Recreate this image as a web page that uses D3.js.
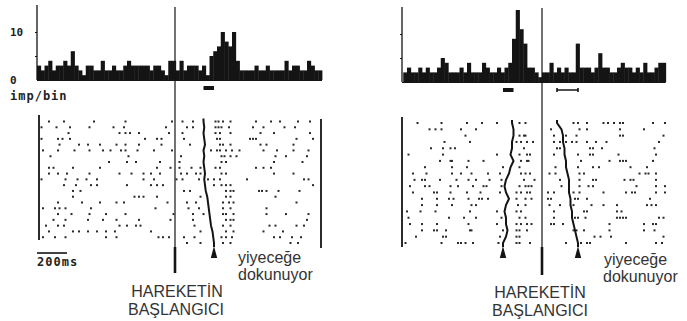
<!DOCTYPE html>
<html>
<head>
<meta charset="utf-8">
<script src="https://cdn.jsdelivr.net/npm/d3@7"></script>
<style>
  body { margin: 0; background: #fff; }
  svg text { font-family: "Liberation Sans", Arial, sans-serif; fill: #333; }
  svg text.mono { font-family: "DejaVu Sans Mono", monospace; font-weight: bold; fill: #222; }
</style>
</head>
<body>
<svg id="chart" width="687" height="321"></svg>
<script>
// bin width of both histograms, in ms
const binMs = 25;
const countTicks = [0, 10];

// left cell: histogram counts per 25 ms bin, from -920 ms
const leftCounts = [3,2,3,4,2,3,3,4,3,6, 3,2,1,3,3,2,2,4,2,2, 3,2,2,3,4,3,3,3,3,3,
  2,3,3,2,1,4,4,2,4,2, 3,3,3,2,3,1,5,6,7,10, 8,7,10,4,2,2,2,2,3,2,
  2,3,2,2,2,2,4,2,3,3, 2,2,4,3,2,2];

// right cell: histogram counts per 25 ms bin, from -925 ms
const rightCounts = [2,3,2,2,3,2,3,2,2,3, 5,4,2,2,2,3,2,4,2,2, 2,4,3,2,2,3,2,3,4,9,
  15,11,8,3,3,2,1,2,2,4, 2,3,2,3,2,2,8,3,3,3, 2,3,6,3,3,2,2,3,4,3,
  3,2,3,2,4,2,2,3,4,4];

// spike times (ms from movement onset), one array per trial
const leftSpikes = [
  [-840,-740,-540,-330,-20,50,120,270,290,320,370,540,640,700,820,900],
  [-890,-790,-700,-570,-410,-340,-60,80,120,270,290,310,360,520,590,730,800],
  [-710,-370,-330,-300,-240,-40,50,270,300,370,570,660,900],
  [-890,-780,-750,-700,-200,-120,-90,60,280,300,500,520,540,810,920],
  [-770,-640,-580,-500,-390,-330,-240,-90,100,300,320,370,570,610,790],
  [-880,-780,-670,-570,-480,-430,-360,-330,-250,-140,-20,240,280,300,340,380,430,590,680,790,890],
  [-830,-310,40,310,330,370,410,670,740,880],
  [-440,-320,-260,-100,30,310,340,660,850],
  [-840,-810,-680,-500,-120,-30,30,110,170,270,300,540,590,640],
  [-840,-780,-720,-570,-370,-290,-210,-160,-100,40,80,140,170,310,340,660,790],
  [-890,-730,-650,-590,-520,-210,-140,10,50,160,220,260,300,480,860,890],
  [-740,-660,-560,-520,-320,-160,-120,-80,260,310,340,370,920],
  [-680,-630,60,100,340,370,390,560,580,610,690,830],
  [-680,-270,-240,-210,-120,170,340,370,670],
  [-780,-620,-500,-390,-340,-50,80,140,320,360,390,810],
  [-880,-800,-770,-730,-560,-130,90,160,320,370,610],
  [-780,-690,-570,-460,-330,-10,120,190,320,340,390,610,740,890],
  [-810,-730,-580,-480,-390,-240,-30,120,340,370,390,880],
  [-860,-780,-740,-370,-320,-260,-230,130,320,370,630,670,810,860],
  [-840,-680,-640,-580,-520,-460,-400,-160,170,340,390,590,720],
  [-880,-800,-730,-460,-390,-110,-80,-40,60,130,310,340,380,660,700,780,840],
  [80,170,320,370,770,820]
];
// left cell: food-contact time per trial (ms)
const leftTouch = [190,195,190,195,200,190,195,190,195,200,195,200,205,215,220,225,230,235,240,250,255,260];

const rightSpikes = [
  [-830,-670,-500,-400,-300,-150,-110,210,240,300,410,440,480,520,540,740,820],
  [-750,-710,-670,-540,-440,60,250,300,520,680],
  [-510,-150,-120,-110,80,160,230,520,540,810],
  [-650,-480,-170,-140,-100,-60,80,120,160,200,230,300,360,430,780],
  [-740,-660,-610,-580,-120,100,120,320,340,400,750],
  [-890,-660,-300,-150,-100,-80,80,240,320,340,510,760],
  [-680,-610,-600,-490,-390,-140,-100,-90,260,450,520,540,560,740],
  [-780,-600,-500,-260,-150,90,240,340,380,590,700],
  [-860,-770,-600,-540,-470,-360,-280,-140,-110,-80,50,90,250,280,650,690,710,760],
  [-850,-800,-780,-680,-570,-490,-440,-350,-270,-120,-50,120,250,340,360,550,590,610,760],
  [-880,-780,-750,-610,-560,-460,-390,-370,-270,-150,-110,-90,-70,130,250,310,340,630,760,820],
  [-860,-720,-700,-610,-500,-410,-280,-170,-140,-100,-80,40,80,210,250,410,560,600,620,760,820],
  [-800,-700,-620,-590,-490,-420,-400,-360,-170,-110,-70,40,60,220,240,300,720],
  [-800,-700,-600,-470,-440,-160,-110,50,120,210,330,410,500,700,730,760],
  [-900,-810,-710,-480,-300,-170,-140,80,280,300,500,530],
  [-890,-620,-520,-440,-270,-150,-110,80,220,240,290,500,520,540,560,780,810],
  [-880,-800,-700,-490,-300,-170,-140,-100,-70,60,80,140,450,680,740,760],
  [-800,-720,-700,-640,-480,-470,-260,-170,-150,-100,210,230,280,450,680,750],
  [-840,-660,-640,-280,-170,-150,350,390,460,810],
  [-910,-670,-560,-540,-510,-460,-290,-170,-150,-80,160,260,300,320,560,760,800]
];
// right cell: earlier marked event and food-contact time per trial (ms)
const rightCue = [-200,-190,-190,-200,-200,-210,-190,-210,-220,-240,-250,-240,-220,-240,-250,-240,-240,-230,-240,-260];
const rightTouch = [100,130,140,140,150,150,160,160,170,180,180,180,190,190,200,200,210,220,230,240];

const svg = d3.select("#chart");
const ink = "#141414";
const pxPerMs = 0.15;

const panels = [
  {counts: leftCounts, spikes: leftSpikes, events: [{times: leftTouch, bar: "fill"}],
   t0: -920, onsetX: 175, base: 80, axisX: 37, axisTop: 5, rowTop: 121.5, rowBottom: 243,
   leftEdge: [39, 115, 240], rightEdge: [321, 119, 248], onsetTop: 7, onsetBottom: 273},
  {counts: rightCounts, spikes: rightSpikes,
   events: [{times: rightCue, bar: "fill"}, {times: rightTouch, bar: "range"}],
   t0: -925, onsetX: 542, base: 82, axisX: 402, axisTop: 7, rowTop: 123, rowBottom: 243,
   leftEdge: [402, 117, 247], rightEdge: null, onsetTop: 8, onsetBottom: 275}
];

panels.forEach(p => {
  const t1 = p.t0 + p.counts.length * binMs;
  const x = d3.scaleLinear().domain([0, 1000]).range([p.onsetX, p.onsetX + 1000 * pxPerMs]);
  const y = d3.scaleLinear().domain([0, 10]).range([p.base, p.base - 48]);
  const row = d3.scalePoint().domain(d3.range(p.spikes.length)).range([p.rowTop, p.rowBottom]);
  const g = svg.append("g");

  // histogram
  g.append("g").selectAll("rect").data(p.counts).join("rect")
    .attr("x", (d, i) => x(p.t0 + i * binMs))
    .attr("width", x(binMs) - x(0) + 0.4)
    .attr("y", d => y(d))
    .attr("height", d => y(0) - y(d))
    .attr("fill", ink);

  g.append("g")
    .attr("transform", `translate(${p.axisX},0)`)
    .call(d3.axisLeft(y).tickValues([5, 10]).tickSize(2).tickFormat(""))
    .call(a => a.select(".domain").remove())
    .call(a => a.selectAll("line").attr("stroke", ink));
  g.append("line")
    .attr("x1", p.axisX).attr("x2", p.axisX)
    .attr("y1", p.axisTop).attr("y2", p.base)
    .attr("stroke", ink).attr("stroke-width", 1.3);
  g.append("line")
    .attr("x1", p.axisX).attr("x2", x(t1))
    .attr("y1", p.base + 0.5).attr("y2", p.base + 0.5)
    .attr("stroke", ink).attr("stroke-width", 1);

  // raster borders
  [p.leftEdge, p.rightEdge].filter(e => e).forEach(e => {
    g.append("line").attr("x1", e[0]).attr("x2", e[0]).attr("y1", e[1]).attr("y2", e[2])
      .attr("stroke", ink).attr("stroke-width", 1.8);
  });

  // movement onset line
  g.append("line").attr("x1", x(0)).attr("x2", x(0))
    .attr("y1", p.onsetTop).attr("y2", p.onsetBottom)
    .attr("stroke", ink).attr("stroke-width", 1.2);
  g.append("line").attr("x1", x(0)).attr("x2", x(0))
    .attr("y1", p.rowBottom + 4).attr("y2", p.onsetBottom)
    .attr("stroke", ink).attr("stroke-width", 2.6);

  // raster dots
  const trial = g.append("g").selectAll("g").data(p.spikes).join("g")
    .attr("transform", (d, i) => `translate(0,${row(i)})`);
  trial.selectAll("rect").data(d => d).join("rect")
    .attr("x", d => x(d) - 1).attr("y", -1)
    .attr("width", 2).attr("height", 2)
    .attr("fill", "#2a2a2a");

  // event curves, end triangles and range marks under the histogram
  p.events.forEach(ev => {
    const pts = ev.times.map((t, i) => [x(t), row(i)]);
    const last = ev.times[ev.times.length - 1];
    pts.unshift([x(ev.times[0]), p.rowTop - 3]);
    pts.push([x(last), p.rowBottom + 4]);
    g.append("path").attr("d", d3.line()(pts))
      .attr("fill", "none").attr("stroke", ink).attr("stroke-width", 2);
    const tx = x(last);
    g.append("path")
      .attr("d", `M${tx},${p.rowBottom + 3}L${tx - 3.2},${p.rowBottom + 15}L${tx + 3.2},${p.rowBottom + 15}Z`)
      .attr("fill", ink);

    const lo = x(d3.min(ev.times)), hi = x(d3.max(ev.times));
    const by = p.base + 6;
    if (ev.bar === "fill") {
      g.append("rect").attr("x", lo).attr("y", by).attr("width", hi - lo).attr("height", 4)
        .attr("fill", ink);
    } else {
      g.append("path")
        .attr("d", `M${lo},${by}V${by + 4}M${lo},${by + 2}H${hi}M${hi},${by}V${by + 4}`)
        .attr("stroke", ink).attr("stroke-width", 1.6).attr("fill", "none");
    }
  });

  p.x = x;
  p.y = y;
});

// count labels on the left histogram
const L = panels[0];
svg.append("g").selectAll("text").data(countTicks).join("text")
  .attr("class", "mono")
  .attr("x", 10).attr("y", d => L.y(d) + 4)
  .attr("font-size", 11)
  .text(d => d);
svg.append("text").attr("class", "mono")
  .attr("x", 10).attr("y", 100)
  .attr("font-size", 12).attr("letter-spacing", 1)
  .text("imp/bin");

// 200 ms scale bar
svg.append("line")
  .attr("x1", 37).attr("x2", 37 + L.x(200) - L.x(0))
  .attr("y1", 253).attr("y2", 253)
  .attr("stroke", ink).attr("stroke-width", 1.6);
svg.append("text").attr("class", "mono")
  .attr("x", 37).attr("y", 266)
  .attr("font-size", 12).attr("letter-spacing", 1)
  .text("200ms");

// annotations
const notes = [
  {x: 238, y: 263, text: "yiyeceğe", anchor: "start"},
  {x: 238, y: 280, text: "dokunuyor", anchor: "start"},
  {x: 177, y: 297, text: "HAREKETİN", anchor: "middle"},
  {x: 176, y: 315, text: "BAŞLANGICI", anchor: "middle"},
  {x: 604, y: 265, text: "yiyeceğe", anchor: "start"},
  {x: 603, y: 282, text: "dokunuyor", anchor: "start"},
  {x: 540, y: 298, text: "HAREKETİN", anchor: "middle"},
  {x: 540, y: 316, text: "BAŞLANGICI", anchor: "middle"}
];
svg.append("g").selectAll("text").data(notes).join("text")
  .attr("x", d => d.x).attr("y", d => d.y)
  .attr("text-anchor", d => d.anchor)
  .attr("font-size", 16)
  .text(d => d.text);
</script>
</body>
</html>
